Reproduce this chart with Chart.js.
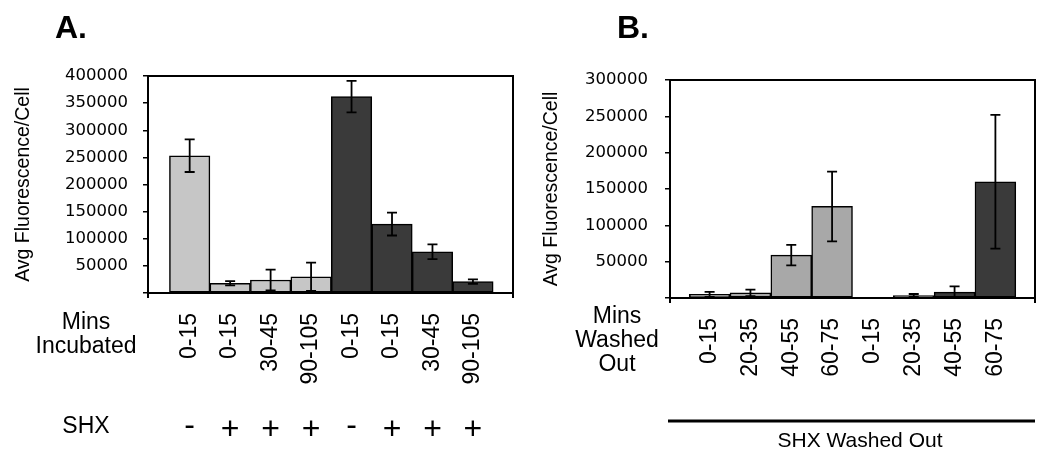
<!DOCTYPE html>
<html>
<head>
<meta charset="utf-8">
<script src="https://cdn.jsdelivr.net/npm/chart.js"></script>
<style>
  body { margin: 0; background: #fff; }
  #wrap { position: relative; width: 1050px; height: 462px; }
  canvas { position: absolute; top: 0; }
</style>
</head>
<body>
<div id="wrap">
  <canvas id="chartA" width="525" height="462" style="left:0px"></canvas>
  <canvas id="chartB" width="525" height="462" style="left:525px"></canvas>
</div>
<script>
// panel A - incubation
const incubLabels = ["0-15", "0-15", "30-45", "90-105", "0-15", "0-15", "30-45", "90-105"];
const incubValues = [253000, 18000, 24000, 30000, 362000, 127000, 76000, 21000];
const incubErrors = [30000, 4000, 19000, 26000, 29000, 21000, 13500, 4000];
const incubShx = ["-", "+", "+", "+", "-", "+", "+", "+"];
const incubGroup = [0, 0, 0, 0, 1, 1, 1, 1];
const incubMax = 400000;

// panel B - washed out
const washLabels = ["0-15", "20-35", "40-55", "60-75", "0-15", "20-35", "40-55", "60-75"];
const washValues = [5000, 7000, 59000, 126000, 0, 3500, 8000, 160000];
const washErrors = [3500, 4500, 14000, 48000, 0, 2000, 8000, 92000];
const washGroup = [0, 0, 0, 0, 1, 1, 1, 1];
const washMax = 300000;

const yStep = 50000;
const yTitle = "Avg Fluorescence/Cell";

const SANS = "'Liberation Sans', Arial, sans-serif";

// error bars, frame and the extra text rows
const panelDecor = {
  id: "panelDecor",
  afterDatasetsDraw(chart, args, opts) {
    const ctx = chart.ctx;
    const area = chart.chartArea;
    const y = chart.scales.y;
    const meta = chart.getDatasetMeta(0);
    ctx.save();
    ctx.strokeStyle = "#000";
    ctx.lineWidth = 1.8;
    opts.values.forEach((v, i) => {
      const e = opts.errors[i];
      if (!e) return;
      const px = meta.data[i].x;
      const top = y.getPixelForValue(v + e);
      const bot = y.getPixelForValue(Math.max(v - e, 0));
      ctx.beginPath();
      ctx.moveTo(px, top); ctx.lineTo(px, bot);
      ctx.moveTo(px - 5, top); ctx.lineTo(px + 5, top);
      ctx.moveTo(px - 5, bot); ctx.lineTo(px + 5, bot);
      ctx.stroke();
    });
    // plot frame
    ctx.lineWidth = 2;
    ctx.strokeRect(area.left, area.top, area.width, area.height);
    ctx.beginPath();
    ctx.moveTo(area.left, area.bottom); ctx.lineTo(area.left, area.bottom + 5);
    ctx.moveTo(area.right, area.bottom); ctx.lineTo(area.right, area.bottom + 5);
    ctx.stroke();
    ctx.restore();
  },
  afterDraw(chart, args, opts) {
    const ctx = chart.ctx;
    const area = chart.chartArea;
    const meta = chart.getDatasetMeta(0);
    ctx.save();
    ctx.fillStyle = "#000";
    // panel letter
    ctx.font = "bold 32px " + SANS;
    ctx.textAlign = "left";
    ctx.textBaseline = "alphabetic";
    ctx.fillText(opts.letter, opts.letterX, 38);
    // row heading next to the x labels
    ctx.font = "23px " + SANS;
    ctx.textAlign = "center";
    ctx.textBaseline = "middle";
    opts.rowLines.forEach((line, i) => {
      ctx.fillText(line, opts.rowX, opts.rowY + i * 24);
    });
    if (opts.signs) {
      ctx.fillText("SHX", opts.rowX, 427);
      ctx.font = "32px " + SANS;
      opts.signs.forEach((s, i) => {
        ctx.fillText(s, meta.data[i].x, s === "+" ? 430 : 426);
      });
    }
    if (opts.underline) {
      ctx.strokeStyle = "#000";
      ctx.lineWidth = 3;
      ctx.beginPath();
      ctx.moveTo(area.left - 2, 421);
      ctx.lineTo(area.right, 421);
      ctx.stroke();
      ctx.font = "21px " + SANS;
      ctx.fillText(opts.underline, opts.underlineX, 441);
    }
    ctx.restore();
  }
};

function makePanel(canvas, labels, values, colors, group, yMax, sizes, decor) {
  return new Chart(canvas, {
    type: "bar",
    data: {
      datasets: [{
        data: values.map((v, i) => ({ x: i, y: v })),
        backgroundColor: group.map((g) => colors[g]),
        borderColor: "#000",
        borderWidth: 1.5,
        borderSkipped: false,
        barPercentage: 1,
        categoryPercentage: 1,
      }],
    },
    options: {
      responsive: false,
      animation: false,
      layout: { padding: { left: 0, top: sizes.top, right: sizes.right, bottom: 0 } },
      plugins: {
        legend: { display: false },
        tooltip: { enabled: false },
        panelDecor: decor,
      },
      scales: {
        x: {
          type: "linear",
          offset: false,
          min: sizes.xMin,
          max: sizes.xMax,
          grid: { display: false, offset: false },
          border: { display: false },
          afterBuildTicks: (s) => { s.ticks = labels.map((_, i) => ({ value: i })); },
          afterFit: (s) => { s.height = sizes.xHeight; },
          ticks: {
            autoSkip: false,
            minRotation: 90,
            maxRotation: 90,
            padding: 12,
            color: "#000",
            font: { family: SANS, size: 23 },
            callback: (v, i) => labels[i],
          },
        },
        y: {
          min: 0,
          max: yMax,
          afterFit: (s) => { s.width = sizes.yWidth; },
          grid: { drawOnChartArea: false, drawTicks: true, tickLength: 5, color: "#000", lineWidth: 1.5 },
          border: { display: false },
          ticks: {
            stepSize: yStep,
            padding: sizes.tickPad,
            color: "#000",
            font: { family: "'DejaVu Sans', sans-serif", size: 16.5 },
            callback: (v) => (v === 0 ? "" : String(v)),
          },
          title: {
            display: true,
            text: yTitle,
            color: "#000",
            font: { family: SANS, size: 19.5 },
            padding: { top: sizes.titlePad, bottom: 0 },
          },
        },
      },
    },
    plugins: [panelDecor],
  });
}

makePanel(
  document.getElementById("chartA"),
  incubLabels, incubValues, ["#c6c6c6", "#3a3a3a"], incubGroup, incubMax,
  { top: 76, right: 12, xHeight: 169, yWidth: 148, xMin: -1.03, xMax: 7.99, tickPad: 15, titlePad: 12 },
  {
    values: incubValues, errors: incubErrors,
    letter: "A.", letterX: 55,
    rowLines: ["Mins", "Incubated"], rowX: 86, rowY: 323,
    signs: incubShx,
  }
);

makePanel(
  document.getElementById("chartB"),
  washLabels, washValues, ["#a8a8a8", "#3a3a3a"], washGroup, washMax,
  { top: 80, right: 15, xHeight: 164, yWidth: 145, xMin: -0.97, xMax: 7.97, tickPad: 17, titlePad: 15 },
  {
    values: washValues, errors: washErrors,
    letter: "B.", letterX: 92,
    rowLines: ["Mins", "Washed", "Out"], rowX: 92, rowY: 317,
    underline: "SHX Washed Out", underlineX: 335,
  }
);
</script>
</body>
</html>
